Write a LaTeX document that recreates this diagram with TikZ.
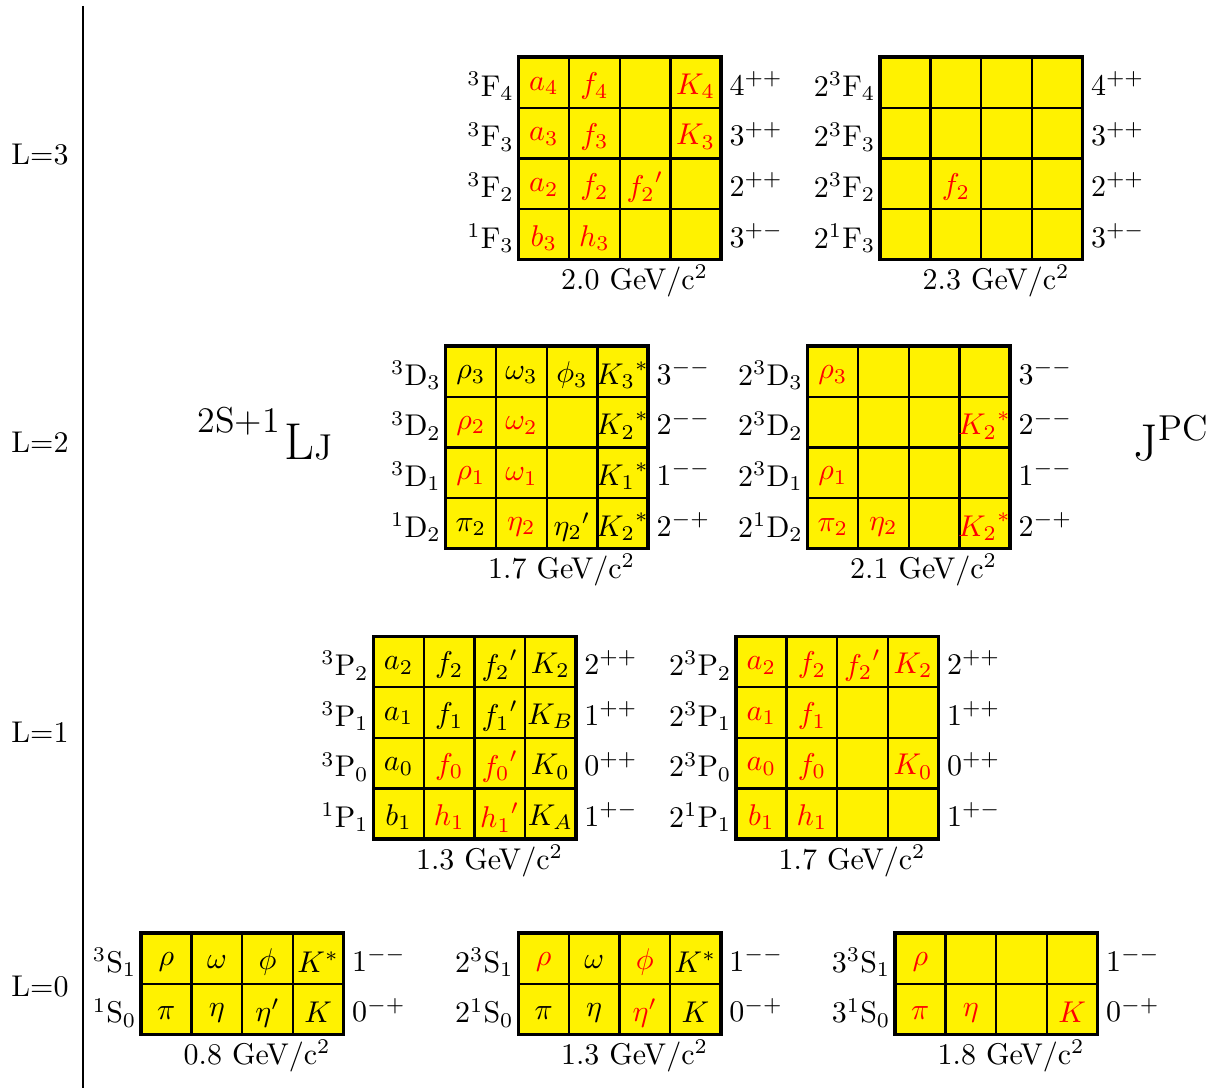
\documentclass[tikz,border=0pt]{standalone}
\usetikzlibrary{calc}
\newcommand{\cellw}{50.6}
\tikzset{
  cellline/.style={thick},
  blockframe/.style={very thick},
  particle/.style={inner sep=0pt},
  statelabel/.style={inner sep=0pt},
}
\begin{document}
\begin{tikzpicture}[x=0.3333pt,y=-0.3333pt]
\useasboundingbox (0,0) rectangle (1217,1088);

% L axis
\coordinate (axtop) at (83,6);
\coordinate (axbot) at (83,1088);
\draw[semithick] (axtop) -- (axbot);
\node (L3) at (40,155) {L=3};
\node (L2) at (40,442) {L=2};
\node (L1) at (40,732) {L=1};
\node (L0) at (40,987) {L=0};

% notation
\node[statelabel,anchor=base west] (termsym) at (197,460) {\raisebox{9.3pt}{\large 2S+1}\kern1.5pt{\LARGE L}{\large J}};
\node[statelabel,anchor=base west] (jpcsym) at (1133,461) {{\LARGE J}\raisebox{6.7pt}{\large PC}};

% multiplets: name/left/top/rows/mass
\foreach \bname/\bx/\by/\nrow/\mass in {F1/518.5/57.3/4/2.0, F2/880/57.3/4/2.3,
    D1/445.5/346.3/4/1.7, D2/807.5/346.3/4/2.1, P1/373.3/636.7/4/1.3, P2/736/636.7/4/1.7,
    S1/141/933.3/2/0.8, S2/518.3/933.3/2/1.3, S3/895/933.3/2/1.8}{
  \coordinate (\bname) at (\bx,\by);
  \fill[yellow] (\bname) rectangle ++(4*\cellw,\nrow*\cellw);
  \foreach \i in {1,2,3}
    \draw[cellline] (\bx+\i*\cellw,\by) -- ++(0,\nrow*\cellw);
  \pgfmathtruncatemacro{\nlast}{\nrow-1}
  \foreach \j in {1,...,\nlast}
    \draw[cellline] (\bx,\by+\j*\cellw) -- ++(4*\cellw,0);
  \draw[blockframe] (\bname) rectangle ++(4*\cellw,\nrow*\cellw);
  \node[statelabel,anchor=base] (\bname-mass) at (\bx+2*\cellw+15,\by+\nrow*\cellw+30) {\mass~GeV/c$^2$};
}

% row labels
\foreach \bname/\pre in {F1/{},F2/2}
  \foreach \row/\spin/\jj/\jpc in {1/3/4/{4^{++}},2/3/3/{3^{++}},3/3/2/{2^{++}},4/1/3/{3^{+-}}}{
    \node[statelabel,anchor=base east] (\bname-l\row) at ($(\bname)+(-4,\row*\cellw-\cellw+39)$) {$\pre^{\spin}\mathrm{F}_{\jj}$};
    \node[statelabel,anchor=base west] (\bname-j\row) at ($(\bname)+(4*\cellw+8,\row*\cellw-\cellw+38)$) {$\jpc$};
  }
\foreach \bname/\pre in {D1/{},D2/2}
  \foreach \row/\spin/\jj/\jpc in {1/3/3/{3^{--}},2/3/2/{2^{--}},3/3/1/{1^{--}},4/1/2/{2^{-+}}}{
    \node[statelabel,anchor=base east] (\bname-l\row) at ($(\bname)+(-4,\row*\cellw-\cellw+39)$) {$\pre^{\spin}\mathrm{D}_{\jj}$};
    \node[statelabel,anchor=base west] (\bname-j\row) at ($(\bname)+(4*\cellw+8,\row*\cellw-\cellw+38)$) {$\jpc$};
  }
\foreach \bname/\pre in {P1/{},P2/2}
  \foreach \row/\spin/\jj/\jpc in {1/3/2/{2^{++}},2/3/1/{1^{++}},3/3/0/{0^{++}},4/1/1/{1^{+-}}}{
    \node[statelabel,anchor=base east] (\bname-l\row) at ($(\bname)+(-4,\row*\cellw-\cellw+39)$) {$\pre^{\spin}\mathrm{P}_{\jj}$};
    \node[statelabel,anchor=base west] (\bname-j\row) at ($(\bname)+(4*\cellw+8,\row*\cellw-\cellw+38)$) {$\jpc$};
  }
\foreach \bname/\pre in {S1/{},S2/2,S3/3}
  \foreach \row/\spin/\jj/\jpc in {1/3/1/{1^{--}},2/1/0/{0^{-+}}}{
    \node[statelabel,anchor=base east] (\bname-l\row) at ($(\bname)+(-4,\row*\cellw-\cellw+39)$) {$\pre^{\spin}\mathrm{S}_{\jj}$};
    \node[statelabel,anchor=base west] (\bname-j\row) at ($(\bname)+(4*\cellw+8,\row*\cellw-\cellw+38)$) {$\jpc$};
  }

% mesons: block/row/col/symbol/colour
\foreach \bname/\row/\col/\sym/\tint in {
    F1/1/1/a_4/red, F1/1/2/f_4/red, F1/1/4/K_4/red, F1/2/1/a_3/red, F1/2/2/f_3/red, F1/2/4/K_3/red,
    F1/3/1/a_2/red, F1/3/2/f_2/red, F1/3/3/{{f_2}'}/red, F1/4/1/b_3/red, F1/4/2/h_3/red,
    F2/3/2/f_2/red,
    D1/1/1/\rho_3/black, D1/1/2/\omega_3/black, D1/1/3/\phi_3/black, D1/1/4/{{K_3}^*}/black,
    D1/2/1/\rho_2/red, D1/2/2/\omega_2/red, D1/2/4/{{K_2}^*}/black,
    D1/3/1/\rho_1/red, D1/3/2/\omega_1/red, D1/3/4/{{K_1}^*}/black,
    D1/4/1/\pi_2/black, D1/4/2/\eta_2/red, D1/4/3/{{\eta_2}'}/black, D1/4/4/{{K_2}^*}/black,
    D2/1/1/\rho_3/red, D2/2/4/{{K_2}^*}/red, D2/3/1/\rho_1/red,
    D2/4/1/\pi_2/red, D2/4/2/\eta_2/red, D2/4/4/{{K_2}^*}/red,
    P1/1/1/a_2/black, P1/1/2/f_2/black, P1/1/3/{{f_2}'}/black, P1/1/4/K_2/black,
    P1/2/1/a_1/black, P1/2/2/f_1/black, P1/2/3/{{f_1}'}/black, P1/2/4/K_B/black,
    P1/3/1/a_0/black, P1/3/2/f_0/red, P1/3/3/{{f_0}'}/red, P1/3/4/K_0/black,
    P1/4/1/b_1/black, P1/4/2/h_1/red, P1/4/3/{{h_1}'}/red, P1/4/4/K_A/black,
    P2/1/1/a_2/red, P2/1/2/f_2/red, P2/1/3/{{f_2}'}/red, P2/1/4/K_2/red,
    P2/2/1/a_1/red, P2/2/2/f_1/red, P2/3/1/a_0/red, P2/3/2/f_0/red, P2/3/4/K_0/red,
    P2/4/1/b_1/red, P2/4/2/h_1/red,
    S1/1/1/\rho/black, S1/1/2/\omega/black, S1/1/3/\phi/black, S1/1/4/K^*/black,
    S1/2/1/\pi/black, S1/2/2/\eta/black, S1/2/3/\eta'/black, S1/2/4/K/black,
    S2/1/1/\rho/red, S2/1/2/\omega/black, S2/1/3/\phi/red, S2/1/4/K^*/black,
    S2/2/1/\pi/black, S2/2/2/\eta/black, S2/2/3/\eta'/red, S2/2/4/K/black,
    S3/1/1/\rho/red, S3/2/1/\pi/red, S3/2/2/\eta/red, S3/2/4/K/red}
  \node[particle,text=\tint] (\bname-\row-\col) at ($(\bname)+(\col*\cellw-0.5*\cellw,\row*\cellw-0.5*\cellw+3.5)$) {$\sym$};
\end{tikzpicture}
\end{document}
